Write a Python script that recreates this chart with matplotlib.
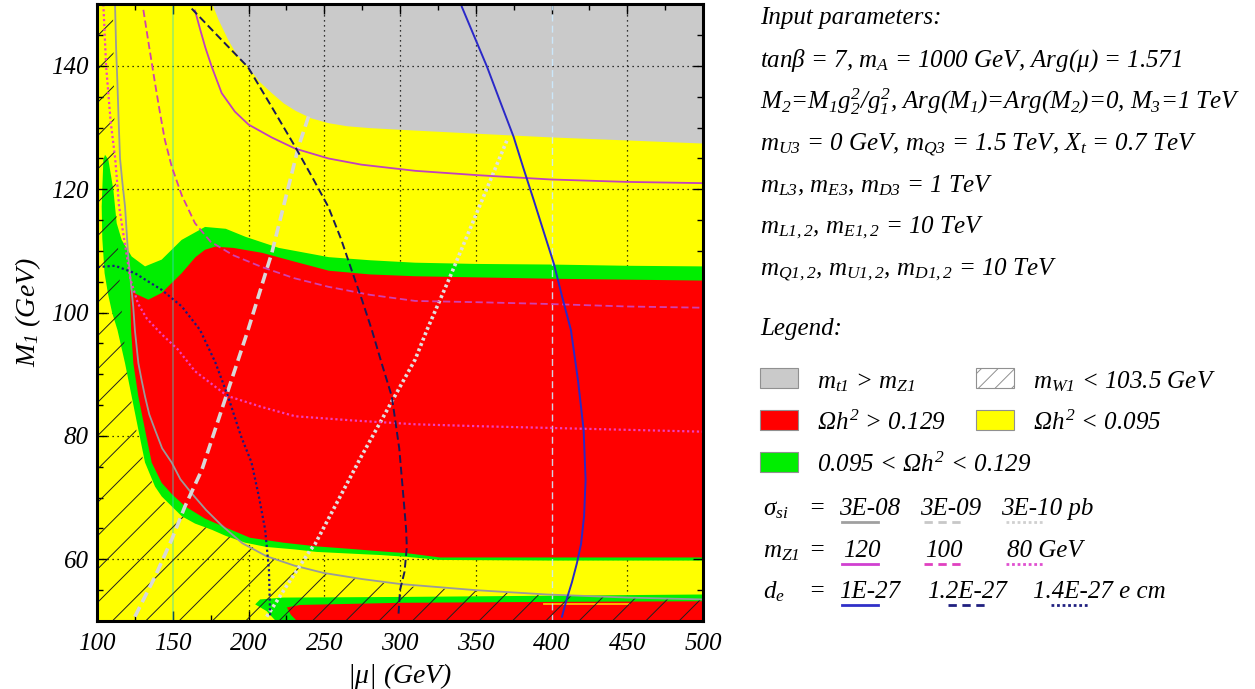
import matplotlib
matplotlib.use("Agg")
import matplotlib.pyplot as plt
from matplotlib.ticker import MultipleLocator, FixedLocator
from matplotlib.patches import Rectangle

plt.rcParams['mathtext.fontset'] = 'custom'
plt.rcParams['mathtext.rm'] = 'Liberation Serif:italic'
plt.rcParams['mathtext.it'] = 'Liberation Serif:italic'
plt.rcParams['mathtext.bf'] = 'Liberation Serif:bold:italic'
plt.rcParams['mathtext.sf'] = 'Liberation Serif'
plt.rcParams['font.family'] = ['Liberation Serif', 'DejaVu Serif']
plt.rcParams['font.style'] = 'italic'
plt.rcParams['hatch.linewidth'] = 0.7

YELLOW = '#ffff00'
RED = '#ff0000'
GREEN = '#00ee00'
GREY = '#cacaca'

# ---------------- data (|mu| in GeV, M1 in GeV) ----------------
gray_mu = [176, 180, 186.5, 192, 199.7, 207, 215.4, 223, 230.8, 241, 252.6, 265, 280, 310, 350, 399, 450, 500]
gray_m1 = [150, 147.5, 144.2, 141.9, 139.8, 137.5, 135.6, 134.0, 132.8, 131.6, 130.8, 130.3, 130.0, 129.6, 129.1, 128.5, 128.0, 127.5]

green_mu = [105.3, 107.5, 110.8, 113.0, 116.3, 122.9, 131.7, 142.7, 155.9, 171.3, 185, 198, 220, 253, 280, 310, 350, 400, 450, 500,
            500, 450, 400, 326.5, 304.5, 287, 278, 245, 230.8, 212, 197.8, 185, 175.7, 164.7, 155.9, 149.3, 142.7, 138.3,
            131.7, 127.3, 122.9, 118.5, 113.5, 110, 107.3, 105, 103.5, 103.1, 104.2]
green_m1 = [125.6, 124.8, 119.9, 114.5, 111.8, 109.1, 107.5, 108.6, 111.8, 113.9, 113.6, 112.3, 110.5, 109.0, 108.5, 108.1, 107.9, 107.8, 107.6, 107.5,
            59.8, 59.8, 59.8, 59.9, 60.4, 60.7, 60.8, 61.2, 61.6, 62.0, 62.7, 63.8, 64.8, 65.8, 67.0, 68.6, 70.2, 71.8,
            75.7, 81.0, 86.4, 91.8, 97.2, 100, 103, 106.4, 112, 117.2, 124.8]

red_mu = [121.8, 126, 133.9, 142.7, 155.9, 165, 171.3, 178, 190, 209, 230, 253, 280, 310, 400, 500,
          500, 326.5, 304.5, 287, 267, 245, 223, 201, 184.5, 171.3, 158.1, 149.3, 142.7, 136.1, 131.7, 127.3, 124, 122.5]
red_m1 = [103.7, 103.0, 102.1, 103.2, 106.4, 109.0, 110.2, 110.7, 110.5, 109.7, 108.3, 106.8, 106.2, 105.9, 105.5, 105.2,
          60.3, 60.3, 61.0, 61.3, 61.7, 62.1, 62.7, 63.5, 65.2, 66.6, 68.6, 70.6, 72.4, 75.7, 81.0, 86.4, 91.8, 97.2]

lowgreen_mu = [204.4, 207.7, 223, 300, 400, 500, 500, 218, 212]
lowgreen_m1 = [52.7, 53.5, 53.8, 53.9, 54.1, 54.3, 50, 50, 51.6]

lowred_mu = [225.3, 234, 300, 400, 500, 500, 232, 228]
lowred_m1 = [52.2, 52.6, 52.95, 53.1, 53.2, 50, 50, 51.0]

sliver_mu = [395, 451]
sliver_m1 = [52.75, 52.75]

mw_mu = [100, 110.5, 111.5, 113, 115, 117, 120, 125, 131, 140, 150, 165, 180, 200, 215, 230, 253, 300, 350, 400, 450, 500, 500, 100]
mw_m1 = [150, 150, 130, 115, 105, 98, 90, 82, 75.5, 70.5, 67.8, 65.8, 64.4, 62.3, 60.4, 59.2, 57.7, 55.7, 54.9, 54.1, 53.8, 53.5, 50, 50]

s08_mu = [111.9, 112.6, 113.5, 114.3, 115.2, 116.8, 118.5, 119.6, 120.6, 122.3, 123.9, 125, 127.3, 129.5, 131.7, 134.5, 138.3,
          143, 149.3, 155, 162.5, 172, 182.3, 196, 211.9, 230, 249.5, 275, 300, 350, 397, 450, 500]
s08_m1 = [150, 143, 137, 131, 125, 121, 117.2, 113, 109.1, 105, 101.0, 97.2, 91.8, 89, 86.4, 83.5, 81.0,
          78, 75.7, 73, 70.7, 68, 65.5, 62.6, 60.5, 59, 57.8, 56.8, 56.0, 55.0, 54.3, 53.8, 53.5]

s09_mu = [125, 138.3, 149.3, 158.1, 169.2, 184.5, 199.7, 215.4, 233, 240.7]
s09_m1 = [50.7, 57.2, 63.2, 68.6, 74.5, 85.9, 97.2, 109.7, 126.9, 132.6]

s10_mu = [212, 226, 240.8, 244, 274.5, 310, 317.8, 333, 350.7, 370.7]
s10_m1 = [50.7, 56, 61.5, 62.5, 76.7, 92.4, 97.2, 105.8, 116.2, 128.0]

mz120_mu = [164.7, 168, 171.5, 175.7, 182.3, 191, 200, 215.4, 230.8, 252.8, 274.5, 310, 350.7, 399, 450, 500]
mz120_m1 = [149, 146, 143, 139.9, 135.6, 132.6, 130.5, 128.4, 126.6, 125.0, 124.0, 123.0, 122.3, 121.6, 121.2, 121.0]

mz100_mu = [130.6, 134.5, 138.3, 141.5, 144.8, 149.3, 156, 164.7, 175, 190, 208.8, 230, 252.6, 280, 310, 350, 399, 450, 500]
mz100_m1 = [149.1, 143, 137.2, 132.5, 128, 123.7, 119, 114.5, 111.5, 109.3, 107.4, 105.6, 104.2, 102.9, 101.9, 101.7, 101.4, 101.0, 100.8]

mz80_mu = [104.2, 106, 109, 112, 114.6, 118, 122, 127, 133, 142.7, 153.5, 164.7, 186, 208.8, 230.8, 270, 310, 350, 400, 450, 500]
mz80_m1 = [150, 140, 131, 125, 117.2, 111.8, 105.5, 101.5, 99, 96.5, 94, 90.5, 86.5, 84.7, 83.2, 82.5, 81.9, 81.6, 81.3, 81.0, 80.7]

de10_mu = [340.8, 349, 357.4, 366, 375, 381.5, 388.2, 395, 401.6, 407, 412.8, 417.5, 421.2, 422.5, 421.5, 419.5, 416.8, 413.5, 410, 406.9]
de10_m1 = [149.6, 144.8, 139.9, 134.3, 128.5, 123.4, 118.3, 113, 107.9, 102.6, 97.2, 89, 81, 72.9, 67, 62.5, 59.4, 56.3, 53.5, 50.7]

de12_mu = [162.5, 180, 199.7, 215, 230.8, 242, 252.6, 261, 268.2, 275, 281.4, 288, 294.6, 299.5, 302.3, 304, 304.5, 303, 300, 299]
de12_m1 = [149.3, 144.8, 139.8, 133.5, 126.9, 122, 117.2, 112, 106.8, 102, 97.2, 91.7, 86.4, 78, 70, 65, 62, 58, 55, 51]

de14_mu = [100.5, 112, 125, 142.7, 156, 168, 178, 186.5, 195, 202, 207, 211, 213.5, 214.3]
de14_m1 = [107.4, 107.6, 106.4, 103.7, 101.0, 97.2, 92.0, 86.4, 80.0, 75.7, 70.0, 64.8, 58.3, 50.7]

x_ticks = [100, 150, 200, 250, 300, 350, 400, 450, 500]
y_ticks = [60, 80, 100, 120, 140]
grid_x = [200, 250, 300, 350, 450]
grid_y = [60, 80, 100, 120, 140]
special_x = [150, 400]

input_lines = [
    "Input parameters:",
    r"tan$\mathsf{\beta}$ = 7, $m_A$ = 1000 GeV, Arg($\mathsf{\mu}$) = 1.571",
    r"$M_2$=$M_1g_2^2/g_1^2$, Arg($M_1$)=Arg($M_2$)=0, $M_3$=1 TeV",
    r"$m_{U3}$ = 0 GeV, $m_{Q3}$ = 1.5 TeV, $X_t$ = 0.7 TeV",
    r"$m_{L3}$, $m_{E3}$, $m_{D3}$ = 1 TeV",
    r"$m_{L1,2}$, $m_{E1,2}$ = 10 TeV",
    r"$m_{Q1,2}$, $m_{U1,2}$, $m_{D1,2}$ = 10 TeV",
]
input_baselines = [24, 67, 109, 150, 192, 233, 275]

# ---------------- figure ----------------
W, H = 1255, 689
fig = plt.figure(figsize=(W / 100, H / 100), dpi=100)
L, R, T, B = 97, 703, 4.3, 621
ax = fig.add_axes([L / W, 1 - B / H, (R - L) / W, (B - T) / H])
ax.set_xlim(100, 500)
ax.set_ylim(50, 150)
ax.set_facecolor(YELLOW)

ax.fill_between(gray_mu, gray_m1, 150, color=GREY, lw=0, zorder=0.3)
for gx in grid_x:
    ax.axvline(gx, color='k', lw=0.9, ls=(0, (1, 3)), zorder=1.2)
for gy in grid_y:
    ax.axhline(gy, color='k', lw=0.9, ls=(0, (1, 3)), zorder=1.2)

ax.fill(green_mu, green_m1, color=GREEN, lw=0, zorder=1.5)
ax.fill(red_mu, red_m1, color=RED, lw=0, zorder=1.6)
ax.fill(lowgreen_mu, lowgreen_m1, color=GREEN, lw=0, zorder=1.5)
ax.fill(lowred_mu, lowred_m1, color=RED, lw=0, zorder=1.6)
ax.plot(sliver_mu, sliver_m1, color='#ffc000', lw=1.3, zorder=1.7)

ax.axvline(special_x[0], color=(0.2, 0.85, 0.8), alpha=0.5, lw=1.1, zorder=1.9)
ax.axvline(special_x[1], color=(0.8, 0.92, 1.0), alpha=0.9, lw=1.0, ls=(0, (5, 3)), zorder=1.9)

ax.fill(mw_mu, mw_m1, facecolor='none', edgecolor='#202020', hatch='/', lw=0, zorder=2.0)

ax.plot(s08_mu, s08_m1, color='#9a9a9a', lw=1.3, zorder=2.1)
ax.plot(s09_mu, s09_m1, color='#d8d8d8', lw=2.6, ls=(0, (3, 1.5)), zorder=2.1)
ax.plot(s10_mu, s10_m1, color='#e0e0e0', lw=2.6, ls=(0, (0.8, 0.8)), zorder=2.1)
ax.plot(mz120_mu, mz120_m1, color='#c040c0', lw=1.3, zorder=2.2)
ax.plot(mz100_mu, mz100_m1, color='#d040b0', lw=1.3, ls=(0, (4, 2)), zorder=2.2)
ax.plot(mz80_mu, mz80_m1, color='#f040c0', lw=1.6, ls=(0, (1, 1.2)), zorder=2.2)
ax.plot(de10_mu, de10_m1, color='#2a28c8', lw=1.4, zorder=2.3)
ax.plot(de12_mu, de12_m1, color='#1a1a5a', lw=1.4, ls=(0, (4, 2)), zorder=2.3)
ax.plot(de14_mu, de14_m1, color='#1a1a80', lw=1.6, ls=(0, (1, 1.2)), zorder=2.3)

ax.xaxis.set_major_locator(FixedLocator(x_ticks))
ax.yaxis.set_major_locator(FixedLocator(y_ticks))
ax.xaxis.set_minor_locator(MultipleLocator(25))
ax.yaxis.set_minor_locator(MultipleLocator(5))
ax.tick_params(which='both', direction='in', top=True, right=True, width=1.0, colors='k')
ax.tick_params(which='major', length=7)
ax.tick_params(which='minor', length=4)
ax.tick_params(axis='x', which='major', pad=9, labelsize=18)
ax.tick_params(axis='y', which='major', pad=6, labelsize=18)
for sp in ax.spines.values():
    sp.set_linewidth(2.2)
    sp.set_zorder(3)
ax.set_xlabel(r"|$\mathsf{\mu}$| (GeV)", fontsize=20, labelpad=4)
ax.set_ylabel(r"$M_1$ (GeV)", fontsize=20, labelpad=6)

# ---------------- right-hand panel (pixel coordinates) ----------------
ov = fig.add_axes([0, 0, 1, 1])
ov.set_xlim(0, W)
ov.set_ylim(H, 0)
ov.axis('off')
ov.patch.set_alpha(0)

TX = 760
for s, yb in zip(input_lines, input_baselines):
    ov.text(TX, yb, s, fontsize=18, va='baseline', ha='left')
ov.text(TX, 335, "Legend:", fontsize=18, va='baseline', ha='left')

sw_w, sw_h = 38, 20
sw_rows = [(368, GREY, r"$m_{t1}$ > $m_{Z1}$"), (410, RED, r"$\mathsf{\Omega}h^2$ > 0.129"),
           (452, GREEN, r"0.095 < $\mathsf{\Omega}h^2$ < 0.129")]
for ytop, col, lab in sw_rows:
    ov.add_patch(Rectangle((TX, ytop), sw_w, sw_h, facecolor=col, edgecolor='#909090', lw=0.8))
    ov.text(817, ytop + 20, lab, fontsize=18, va='baseline', ha='left')
ov.add_patch(Rectangle((976, 368), sw_w, sw_h, facecolor='white', edgecolor='#909090', lw=0.8, hatch='//'))
ov.text(1033, 388, r"$m_{W1}$ < 103.5 GeV", fontsize=18, va='baseline', ha='left')
ov.add_patch(Rectangle((976, 410), sw_w, sw_h, facecolor=YELLOW, edgecolor='#909090', lw=0.8))
ov.text(1033, 430, r"$\mathsf{\Omega}h^2$ < 0.095", fontsize=18, va='baseline', ha='left')

rows = [
    (515, r"$\mathsf{\sigma}_{si}$", ["3E-08", "3E-09", "3E-10 pb"], [839, 920, 1001],
     [(842, 878), (924, 962), (1006, 1043)], ['#a0a0a0', '#c8c8c8', '#d0d0d0']),
    (557, r"$m_{Z1}$", ["120", "100", "80 GeV"], [843, 925, 1007],
     [(842, 878), (924, 962), (1006, 1043)], ['#d040d0', '#e040c0', '#e050d0']),
    (598, r"$d_e$", ["1E-27", "1.2E-27", "1.4E-27 e cm"], [839, 927, 1033],
     [(842, 878), (948, 985), (1051, 1088)], ['#3030c8', '#202080', '#202080']),
]
styles = ['-', (0, (3, 2)), (0, (1, 1))]
for yb, name, labs, xs, uls, cols in rows:
    ov.text(763, yb, name, fontsize=18, va='baseline', ha='left')
    ov.text(808, yb, "=", fontsize=18, va='baseline', ha='left')
    for lab, x0, (u0, u1), c, st in zip(labs, xs, uls, cols, styles):
        ov.text(x0, yb, lab, fontsize=18, va='baseline', ha='left')
        ov.plot([u0, u1], [yb + 7, yb + 7], color=c, lw=2.0, ls=st)

fig.savefig("out.png", dpi=100)
